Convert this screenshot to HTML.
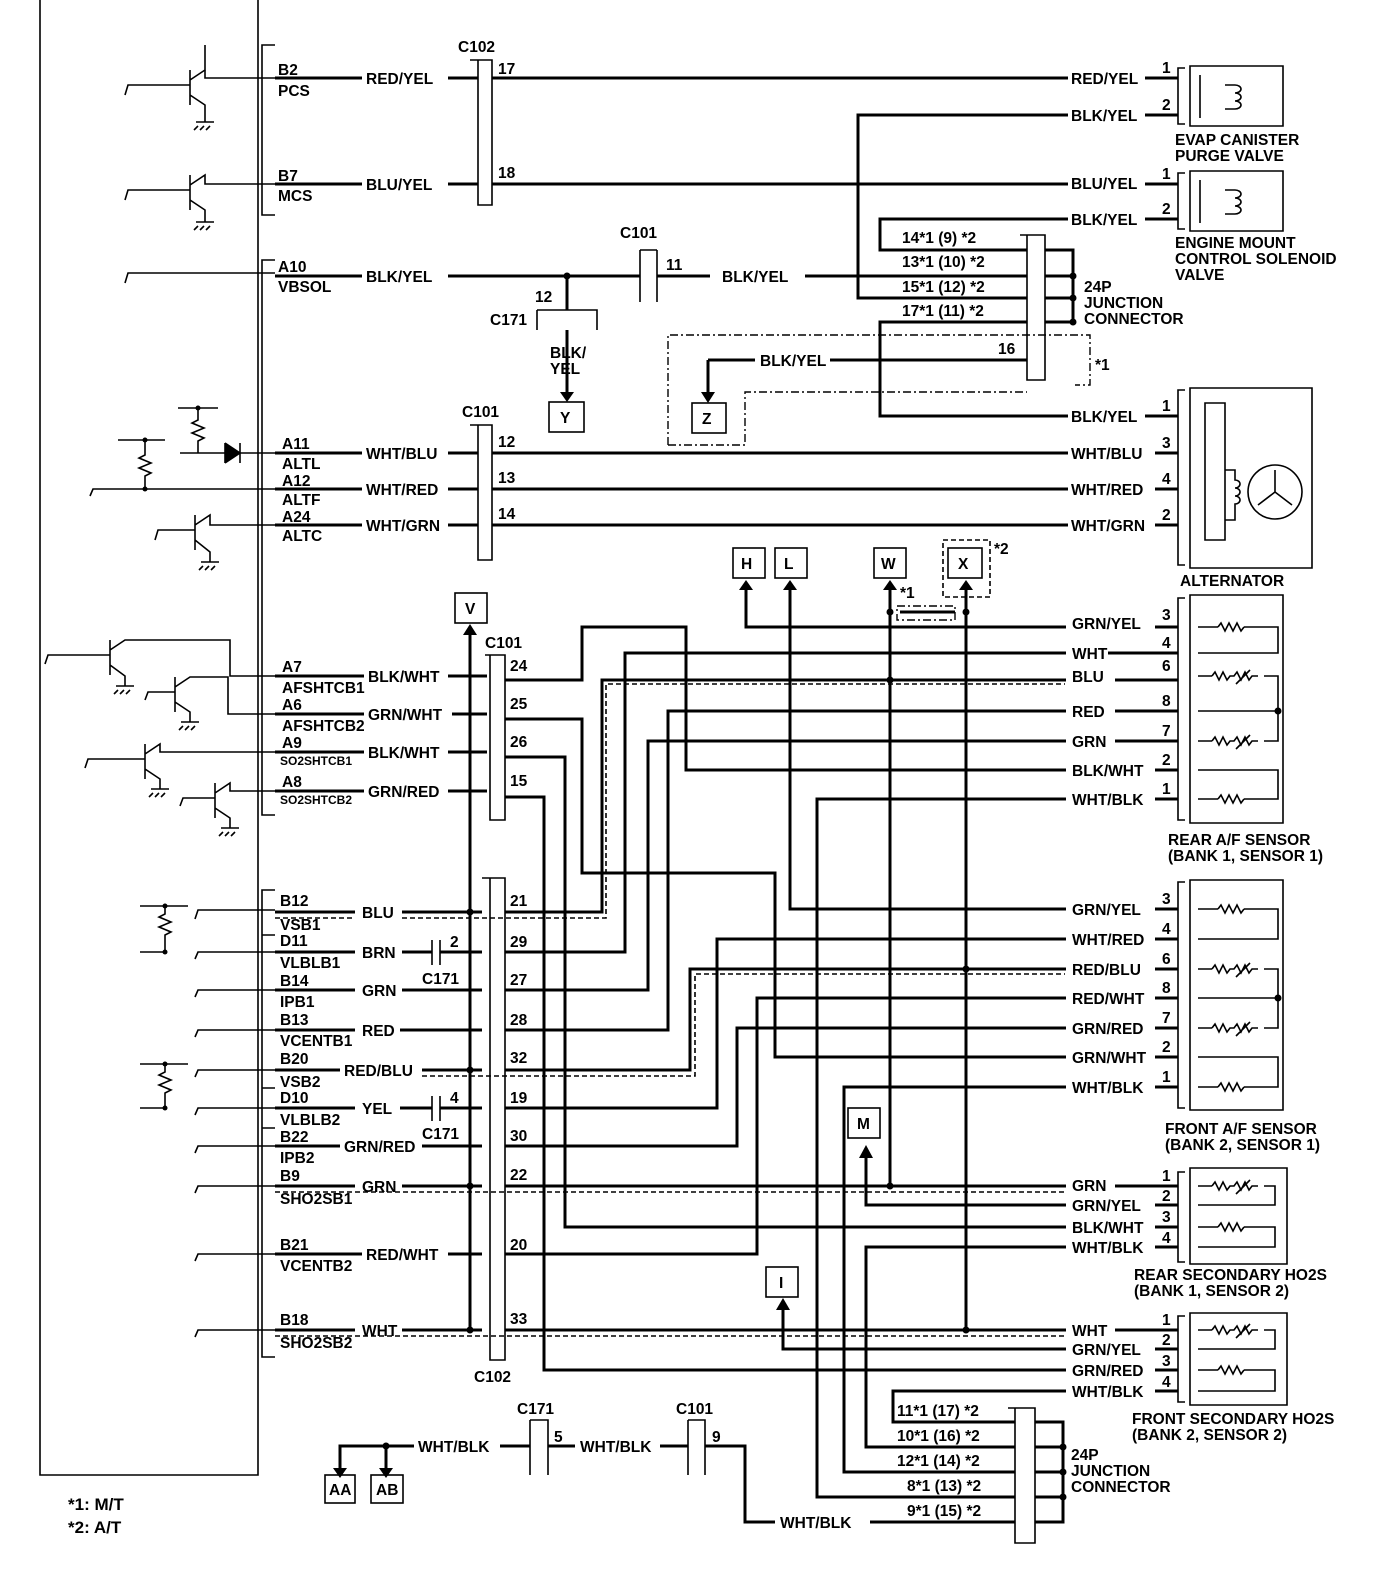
<!DOCTYPE html>
<html><head><meta charset="utf-8"><style>
html,body{margin:0;padding:0;background:#fff}
svg{display:block}
text{font-family:"Liberation Sans",Arial,sans-serif;font-weight:bold;font-size:15.5px;fill:#000}
.s{font-size:12px}
.w{stroke:#000;stroke-width:3;fill:none}
.t{stroke:#000;stroke-width:1.6;fill:none}
.d{stroke:#000;stroke-width:1.6;fill:none;stroke-dasharray:5,3}
.dd{stroke:#000;stroke-width:1.4;fill:none;stroke-dasharray:8,3,2,3}
</style></head><body>
<svg width="1376" height="1578" viewBox="0 0 1376 1578" xmlns="http://www.w3.org/2000/svg">
<path class="t" d="M40,0 V1475 H258 V0"/>
<path class="t" d="M275,45 H262 V215 H275"/>
<path class="t" d="M275,260 H262 V815 H275"/>
<path class="t" d="M275,890 H262 V1357 H275 M262,935 H275 M262,1088 H275 M262,1128 H275"/>

<g class="t">
<path d="M125,95 L128,85 H190 M190,70 V105 M190,80 L205,70 V45 M190,95 L205,105 V122 M196,122 H214 M198,126 L194,130 M204,126 L200,130 M210,126 L206,130"/>
<path d="M125,200 L128,190 H190 M190,175 V210 M190,185 L205,175 V184 H275 M190,200 L205,210 V222 M196,222 H214 M198,226 L194,230 M204,226 L200,230 M210,226 L206,230"/>
<path d="M205,70 V78 H275"/>
<path d="M125,283 L128,273 H275"/>
<path d="M178,408 H218 M198,408 V420 L192,423 L204,428 L192,433 L204,438 L198,441 V453 H225 M180,453 H198 M225,443 V463 M225,443 L240,453 L225,463 M240,443 V463 M240,453 H275"/>
<path d="M118,440 H165 M145,440 V455 L139,458 L151,463 L139,468 L151,473 L145,476 V489 M90,496 L93,489 H275"/>
<path d="M155,540 L158,530 H195 M195,515 V550 M195,525 L210,515 V525 H275 M195,540 L210,552 V562 M201,562 H219 M203,566 L199,570 M209,566 L205,570 M215,566 L211,570"/>
<path d="M45,664 L48,655 H110 M110,640 V675 M110,650 L125,640 H230 V676 H275 M110,665 L125,676 V686 M116,686 H134 M118,690 L114,694 M124,690 L120,694 M130,690 L126,694"/>
<path d="M145,700 L148,692 H175 M175,677 V712 M175,687 L190,677 H228 V714 H275 M175,702 L190,712 V722 M181,722 H199 M183,726 L179,730 M189,726 L185,730 M195,726 L191,730"/>
<path d="M85,768 L88,759 H145 M145,744 V779 M145,754 L160,744 V752 H275 M145,769 L160,779 V789 M151,789 H169 M153,793 L149,797 M159,793 L155,797 M165,793 L161,797"/>
<path d="M180,806 L183,798 H215 M215,783 V818 M215,793 L230,783 V791 H275 M215,808 L230,818 V828 M221,828 H239 M223,832 L219,836 M229,832 L225,836 M235,832 L231,836"/>
<path d="M140,906 H188 M165,906 V914 L159,917 L171,922 L159,927 L171,932 L165,935 V952 M195,919 L198,910 H275 M195,959 L198,952 H275 M140,952 H165"/>
<path d="M195,997 L198,990 H275 M195,1037 L198,1030 H275"/>
<path d="M140,1064 H188 M165,1064 V1072 L159,1075 L171,1080 L159,1085 L171,1090 L165,1093 V1108 M195,1077 L198,1070 H275 M195,1115 L198,1108 H275 M140,1108 H165"/>
<path d="M195,1153 L198,1146 H275 M195,1193 L198,1186 H275 M195,1261 L198,1254 H275 M195,1337 L198,1330 H275"/>
</g>
<g fill="#000"><circle cx="145" cy="440" r="2.5"/><circle cx="145" cy="489" r="2.5"/><circle cx="198" cy="408" r="2.5"/><circle cx="165" cy="906" r="2.5"/><circle cx="165" cy="952" r="2.5"/><circle cx="165" cy="1064" r="2.5"/><circle cx="165" cy="1108" r="2.5"/>
<path d="M225,443 L240,453 L225,463Z"/></g>

<g>
<text x="278" y="75">B2</text><text x="278" y="96">PCS</text>
<text x="278" y="181">B7</text><text x="278" y="201">MCS</text>
<text x="278" y="272">A10</text><text x="278" y="292">VBSOL</text>
<text x="282" y="449">A11</text><text x="282" y="469">ALTL</text>
<text x="282" y="486">A12</text><text x="282" y="505">ALTF</text>
<text x="282" y="522">A24</text><text x="282" y="541">ALTC</text>
<text x="282" y="672">A7</text><text x="282" y="693">AFSHTCB1</text>
<text x="282" y="710">A6</text><text x="282" y="731">AFSHTCB2</text>
<text x="282" y="748">A9</text><text x="280" y="765" class="s">SO2SHTCB1</text>
<text x="282" y="787">A8</text><text x="280" y="804" class="s">SO2SHTCB2</text>
<text x="280" y="906">B12</text><text x="280" y="930">VSB1</text>
<text x="280" y="946">D11</text><text x="280" y="968">VLBLB1</text>
<text x="280" y="986">B14</text><text x="280" y="1007">IPB1</text>
<text x="280" y="1025">B13</text><text x="280" y="1046">VCENTB1</text>
<text x="280" y="1064">B20</text><text x="280" y="1087">VSB2</text>
<text x="280" y="1103">D10</text><text x="280" y="1125">VLBLB2</text>
<text x="280" y="1142">B22</text><text x="280" y="1163">IPB2</text>
<text x="280" y="1181">B9</text><text x="280" y="1204">SHO2SB1</text>
<text x="280" y="1250">B21</text><text x="280" y="1271">VCENTB2</text>
<text x="280" y="1325">B18</text><text x="280" y="1348">SHO2SB2</text>
</g>

<g class="w">
<path d="M275,78 H362 M448,78 H478"/>
<path d="M275,184 H362 M448,184 H478"/>
<path d="M275,276 H362 M448,276 H640 M657,276 H710 M805,276 H858"/>
<path d="M275,453 H362 M448,453 H478 M275,489 H362 M448,489 H478 M275,525 H362 M448,525 H478"/>
<path d="M275,676 H364 M448,676 H487 M275,714 H364 M452,714 H487 M275,752 H364 M448,752 H487 M275,791 H364 M448,791 H487"/>
<path d="M275,912 H355 M402,912 H482 M275,952 H355 M402,952 H432 M440,952 H482 M275,990 H355 M402,990 H482 M275,1030 H355 M400,1030 H482"/>
<path d="M275,1070 H340 M422,1070 H482 M275,1108 H355 M400,1108 H432 M440,1108 H482 M275,1146 H340 M422,1146 H482 M275,1186 H355 M402,1186 H482 M275,1254 H362 M448,1254 H482 M275,1330 H355 M402,1330 H482"/>
</g>
<g>
<text x="366" y="84">RED/YEL</text><text x="366" y="190">BLU/YEL</text><text x="366" y="282">BLK/YEL</text>
<text x="366" y="459">WHT/BLU</text><text x="366" y="495">WHT/RED</text><text x="366" y="531">WHT/GRN</text>
<text x="368" y="682">BLK/WHT</text><text x="368" y="720">GRN/WHT</text><text x="368" y="758">BLK/WHT</text><text x="368" y="797">GRN/RED</text>
<text x="362" y="918">BLU</text><text x="362" y="958">BRN</text><text x="362" y="996">GRN</text><text x="362" y="1036">RED</text>
<text x="344" y="1076">RED/BLU</text><text x="362" y="1114">YEL</text><text x="344" y="1152">GRN/RED</text><text x="362" y="1192">GRN</text>
<text x="366" y="1260">RED/WHT</text><text x="362" y="1336">WHT</text>
</g>
<g class="d"><path d="M275,918 H355 M402,918 H606 V684 H1065"/><path d="M275,1192 H1065"/><path d="M275,1336 H1065"/><path d="M422,1076 H695 V974 H1065"/></g>
<g class="t"><path d="M432,940 V965 M440,940 V965 M432,1096 V1121 M440,1096 V1121"/></g>
<text x="450" y="947">2</text><text x="422" y="984">C171</text>
<text x="450" y="1103">4</text><text x="422" y="1139">C171</text>

<path class="t" d="M470,60 H492 V205 H478 V60"/>
<text x="458" y="52">C102</text><text x="498" y="74">17</text><text x="498" y="178">18</text>
<path class="t" d="M470,425 H492 V560 H478 V425"/>
<text x="462" y="417">C101</text><text x="498" y="447">12</text><text x="498" y="483">13</text><text x="498" y="519">14</text>
<path class="t" d="M485,655 H505 V820 H490 V655"/>
<text x="485" y="648">C101</text><text x="510" y="671">24</text><text x="510" y="709">25</text><text x="510" y="747">26</text><text x="510" y="786">15</text>
<path class="t" d="M482,878 H505 V1360 H490 V878"/>
<text x="510" y="906">21</text><text x="510" y="947">29</text><text x="510" y="985">27</text><text x="510" y="1025">28</text><text x="510" y="1063">32</text><text x="510" y="1103">19</text><text x="510" y="1141">30</text><text x="510" y="1180">22</text><text x="510" y="1250">20</text><text x="510" y="1324">33</text>
<text x="474" y="1382">C102</text>

<g class="w">
<path d="M492,78 H1068 M492,184 H1068"/>
<path d="M1068,115 H858 V298 H1027"/>
<path d="M1068,219 H880 V250 H1027"/>
<path d="M858,276 H1027"/>
<path d="M1027,322 H880 V416 H1068"/>
<path d="M830,360 H1027"/>
<path d="M567,276 V310"/>
<path d="M567,330 V395"/>
<path d="M708,360 H755 M708,360 V395"/>
<path d="M492,453 H1068 M492,489 H1068 M492,525 H1068"/>
</g>
<circle cx="567" cy="276" r="3.5"/>
<path class="t" d="M640,250 V302 M657,250 V302 M640,250 H657"/>
<text x="620" y="238">C101</text><text x="666" y="270">11</text><text x="722" y="282">BLK/YEL</text>
<path class="t" d="M537,310 H597 V330 M537,310 V330"/>
<text x="535" y="302">12</text><text x="490" y="325">C171</text>
<text x="550" y="358">BLK/</text><text x="550" y="374">YEL</text>
<path d="M560,392 L574,392 L567,402Z"/>
<rect class="t" x="549" y="402" width="35" height="30"/><text x="560" y="423">Y</text>
<path class="dd" d="M668,445 V335 H1090 V385 H1075 M668,445 H745 V392 H1027"/>
<path d="M701,392 L715,392 L708,403Z"/>
<rect class="t" x="692" y="403" width="34" height="30"/><text x="702" y="424">Z</text>
<text x="760" y="366">BLK/YEL</text><text x="998" y="354">16</text><text x="1095" y="370">*1</text>
<path class="t" d="M1020,235 H1045 V380 H1027 V235"/>
<path class="w" d="M1045,250 H1073 V322 H1045 M1045,276 H1073 M1045,298 H1073"/>
<g><circle cx="1073" cy="276" r="3.5"/><circle cx="1073" cy="298" r="3.5"/><circle cx="1073" cy="322" r="3.5"/></g>
<text x="902" y="243">14*1 (9) *2</text><text x="902" y="267">13*1 (10) *2</text><text x="902" y="292">15*1 (12) *2</text><text x="902" y="316">17*1 (11) *2</text>
<text x="1084" y="292">24P</text><text x="1084" y="308">JUNCTION</text><text x="1084" y="324">CONNECTOR</text>

<g>
<text x="1071" y="84">RED/YEL</text><text x="1071" y="121">BLK/YEL</text><text x="1071" y="189">BLU/YEL</text><text x="1071" y="225">BLK/YEL</text><text x="1071" y="422">BLK/YEL</text>
<text x="1071" y="459">WHT/BLU</text><text x="1071" y="495">WHT/RED</text><text x="1071" y="531">WHT/GRN</text>
</g>
<g class="w"><path d="M1145,78 H1178 M1145,115 H1178 M1145,184 H1178 M1145,219 H1178 M1145,416 H1178 M1155,453 H1178 M1155,489 H1178 M1155,525 H1178"/></g>
<text x="1162" y="73">1</text><text x="1162" y="110">2</text><text x="1162" y="179">1</text><text x="1162" y="214">2</text><text x="1162" y="411">1</text><text x="1162" y="448">3</text><text x="1162" y="484">4</text><text x="1162" y="520">2</text>
<path class="t" d="M1185,68 H1178 V124 H1185 M1190,66 H1283 V126 H1190 Z M1200,75 V118"/>
<path class="t" d="M1225,85 H1235 A6,4 0 0 1 1235,93 A6,4 0 0 1 1235,101 A6,4 0 0 1 1235,109 H1225"/>
<text x="1175" y="145">EVAP CANISTER</text><text x="1175" y="161">PURGE VALVE</text>
<path class="t" d="M1185,173 H1178 V229 H1185 M1190,171 H1283 V231 H1190 Z M1200,180 V223"/>
<path class="t" d="M1225,190 H1235 A6,4 0 0 1 1235,198 A6,4 0 0 1 1235,206 A6,4 0 0 1 1235,214 H1225"/>
<text x="1175" y="248">ENGINE MOUNT</text><text x="1175" y="264">CONTROL SOLENOID</text><text x="1175" y="280">VALVE</text>
<path class="t" d="M1185,390 H1178 V565 H1185 M1190,388 H1312 V568 H1190 Z M1205,403 H1225 V540 H1205 Z"/>
<path class="t" d="M1225,470 H1235 V480 A5,4 0 0 1 1235,488 A5,4 0 0 1 1235,496 A5,4 0 0 1 1235,504 V520 H1225"/>
<circle class="t" cx="1275" cy="492" r="27"/>
<path class="t" d="M1275,470 V492 L1258,505 M1275,492 L1292,505"/>
<text x="1180" y="586">ALTERNATOR</text>

<g class="t"><rect x="733" y="548" width="32" height="30"/><rect x="775" y="548" width="32" height="30"/><rect x="874" y="548" width="32" height="30"/><rect x="948" y="548" width="34" height="30"/><rect x="455" y="593" width="32" height="30"/></g>
<path class="d" d="M943,540 H990 V597 H943 Z"/>
<text x="741" y="569">H</text><text x="784" y="569">L</text><text x="881" y="569">W</text><text x="958" y="569">X</text><text x="465" y="614">V</text><text x="994" y="554">*2</text>
<g><path d="M739,590 L753,590 L746,580Z"/><path d="M783,590 L797,590 L790,580Z"/><path d="M883,590 L897,590 L890,580Z"/><path d="M959,590 L973,590 L966,580Z"/><path d="M463,635 L477,635 L470,624Z"/></g>
<text x="900" y="598">*1</text>
<path class="dd" d="M897,606 H955 V620 H897 Z"/>

<g class="w">
<path d="M470,630 V1330"/>
<path d="M746,590 V627 H1068"/>
<path d="M790,590 V909 H1068"/>
<path d="M890,590 V1186 M966,590 V1330"/>
<path d="M505,680 H582 V627 H686 V770 H1068"/>
<path d="M505,719 H582 V873 H775 V1057 H1068"/>
<path d="M505,757 H565 V1227 H1068"/>
<path d="M505,797 H544 V1370 H1068"/>
<path d="M505,912 H602 V680 H1068"/>
<path d="M505,952 H625 V653 H1068"/>
<path d="M505,990 H648 V741 H1068"/>
<path d="M505,1030 H668 V711 H1068"/>
<path d="M505,1070 H690 V969 H1068"/>
<path d="M505,1108 H717 V939 H1068"/>
<path d="M505,1146 H737 V1028 H1068"/>
<path d="M505,1254 H757 V998 H1068"/>
<path d="M505,1186 H1068 M505,1330 H1068"/>
<path d="M1068,799 H817 V1497 H1015"/>
<path d="M1068,1087 H844 V1472 H1015"/>
<path d="M1068,1247 H866 V1447 H1015"/>
<path d="M1068,1391 H893 V1422 H1015"/>
<path d="M1068,1205 H866 V1158"/>
<path d="M1068,1349 H783 V1310"/>
<path d="M900,612 H955"/>
</g>
<g><circle cx="470" cy="912" r="3.5"/><circle cx="470" cy="1070" r="3.5"/><circle cx="470" cy="1186" r="3.5"/><circle cx="470" cy="1330" r="3.5"/>
<circle cx="890" cy="612" r="3.5"/><circle cx="966" cy="612" r="3.5"/><circle cx="890" cy="680" r="3.5"/><circle cx="966" cy="969" r="3.5"/><circle cx="890" cy="1186" r="3.5"/><circle cx="966" cy="1330" r="3.5"/></g>
<rect class="t" x="848" y="1108" width="32" height="30"/><text x="857" y="1129">M</text><path d="M859,1158 L873,1158 L866,1145Z"/>
<rect class="t" x="766" y="1267" width="32" height="30"/><text x="779" y="1288">I</text><path d="M776,1310 L790,1310 L783,1298Z"/>

<g fill="#fff" stroke="none">
<rect x="1066" y="614" width="82" height="200"/><rect x="1066" y="900" width="82" height="196"/><rect x="1066" y="1176" width="82" height="80"/><rect x="1066" y="1321" width="82" height="80"/>
</g>
<g>
<text x="1072" y="629">GRN/YEL</text><text x="1072" y="659">WHT</text><text x="1072" y="682">BLU</text><text x="1072" y="717">RED</text><text x="1072" y="747">GRN</text><text x="1072" y="776">BLK/WHT</text><text x="1072" y="805">WHT/BLK</text>
<text x="1072" y="915">GRN/YEL</text><text x="1072" y="945">WHT/RED</text><text x="1072" y="975">RED/BLU</text><text x="1072" y="1004">RED/WHT</text><text x="1072" y="1034">GRN/RED</text><text x="1072" y="1063">GRN/WHT</text><text x="1072" y="1093">WHT/BLK</text>
<text x="1072" y="1191">GRN</text><text x="1072" y="1211">GRN/YEL</text><text x="1072" y="1233">BLK/WHT</text><text x="1072" y="1253">WHT/BLK</text>
<text x="1072" y="1336">WHT</text><text x="1072" y="1355">GRN/YEL</text><text x="1072" y="1376">GRN/RED</text><text x="1072" y="1397">WHT/BLK</text>
</g>
<g class="w"><path d="M1115,680 H1178 M1108,653 H1178 M1115,711 H1178 M1115,741 H1178 M1155,627 H1178 M1155,770 H1178 M1155,799 H1178
M1155,909 H1178 M1155,939 H1178 M1155,969 H1178 M1155,998 H1178 M1155,1028 H1178 M1155,1057 H1178 M1155,1087 H1178
M1115,1186 H1178 M1155,1205 H1178 M1155,1227 H1178 M1155,1247 H1178 M1115,1330 H1178 M1155,1349 H1178 M1155,1370 H1178 M1155,1391 H1178"/></g>
<g style="font-size:13px">
<text x="1162" y="620">3</text><text x="1162" y="648">4</text><text x="1162" y="671">6</text><text x="1162" y="706">8</text><text x="1162" y="736">7</text><text x="1162" y="765">2</text><text x="1162" y="794">1</text>
<text x="1162" y="904">3</text><text x="1162" y="934">4</text><text x="1162" y="964">6</text><text x="1162" y="993">8</text><text x="1162" y="1023">7</text><text x="1162" y="1052">2</text><text x="1162" y="1082">1</text>
<text x="1162" y="1181">1</text><text x="1162" y="1201">2</text><text x="1162" y="1222">3</text><text x="1162" y="1243">4</text>
<text x="1162" y="1325">1</text><text x="1162" y="1345">2</text><text x="1162" y="1366">3</text><text x="1162" y="1387">4</text>
</g>
<g class="t">
<path d="M1185,598 H1178 V820 H1185 M1190,595 H1283 V823 H1190 Z"/>
<path d="M1198,627 H1278 V653 H1198 M1198,676 H1278 V741 H1198 M1198,711 H1278 M1198,770 H1278 V799 H1198"/>
<path d="M1185,882 H1178 V1108 H1185 M1190,880 H1283 V1110 H1190 Z"/>
<path d="M1198,909 H1278 V939 H1198 M1198,969 H1278 V1028 H1198 M1198,998 H1278 M1198,1057 H1278 V1087 H1198"/>
<path d="M1185,1172 H1178 V1262 H1185 M1190,1168 H1287 V1264 H1190 Z"/>
<path d="M1198,1186 H1275 V1205 H1198 M1198,1227 H1275 V1247 H1198"/>
<path d="M1185,1316 H1178 V1402 H1185 M1190,1313 H1287 V1405 H1190 Z"/>
<path d="M1198,1330 H1275 V1349 H1198 M1198,1370 H1275 V1391 H1198"/>
</g>
<g fill="#fff"><rect x="1218" y="620" width="26" height="14"/><rect x="1218" y="792" width="26" height="14"/><rect x="1212" y="669" width="52" height="14"/><rect x="1212" y="734" width="52" height="14"/>
<rect x="1218" y="902" width="26" height="14"/><rect x="1218" y="1080" width="26" height="14"/><rect x="1212" y="962" width="52" height="14"/><rect x="1212" y="1021" width="52" height="14"/>
<rect x="1212" y="1179" width="52" height="14"/><rect x="1218" y="1220" width="26" height="14"/><rect x="1212" y="1323" width="52" height="14"/><rect x="1218" y="1363" width="26" height="14"/></g>
<g class="t">
<path d="M1218,627 l3,-4 l4,8 l4,-8 l4,8 l4,-8 l4,8 l3,-4 M1218,799 l3,-4 l4,8 l4,-8 l4,8 l4,-8 l4,8 l3,-4"/>
<path d="M1212,676 l3,-4 l4,8 l4,-8 l4,8 l3,-4 h4 l3,-4 l4,8 l4,-8 l4,8 l3,-4 h6 M1212,741 l3,-4 l4,8 l4,-8 l4,8 l3,-4 h4 l3,-4 l4,8 l4,-8 l4,8 l3,-4 h6 M1236,684 l14,-14 M1236,749 l14,-14"/>
<path d="M1218,909 l3,-4 l4,8 l4,-8 l4,8 l4,-8 l4,8 l3,-4 M1218,1087 l3,-4 l4,8 l4,-8 l4,8 l4,-8 l4,8 l3,-4"/>
<path d="M1212,969 l3,-4 l4,8 l4,-8 l4,8 l3,-4 h4 l3,-4 l4,8 l4,-8 l4,8 l3,-4 h6 M1212,1028 l3,-4 l4,8 l4,-8 l4,8 l3,-4 h4 l3,-4 l4,8 l4,-8 l4,8 l3,-4 h6 M1236,977 l14,-14 M1236,1036 l14,-14"/>
<path d="M1212,1186 l3,-4 l4,8 l4,-8 l4,8 l3,-4 h4 l3,-4 l4,8 l4,-8 l4,8 l3,-4 h6 M1236,1194 l14,-14 M1218,1227 l3,-4 l4,8 l4,-8 l4,8 l4,-8 l4,8 l3,-4"/>
<path d="M1212,1330 l3,-4 l4,8 l4,-8 l4,8 l3,-4 h4 l3,-4 l4,8 l4,-8 l4,8 l3,-4 h6 M1236,1338 l14,-14 M1218,1370 l3,-4 l4,8 l4,-8 l4,8 l4,-8 l4,8 l3,-4"/>
</g>
<circle cx="1278" cy="711" r="3.5"/><circle cx="1278" cy="998" r="3.5"/>
<text x="1168" y="845">REAR A/F SENSOR</text><text x="1168" y="861">(BANK 1, SENSOR 1)</text>
<text x="1165" y="1134">FRONT A/F SENSOR</text><text x="1165" y="1150">(BANK 2, SENSOR 1)</text>
<text x="1134" y="1280">REAR SECONDARY HO2S</text><text x="1134" y="1296">(BANK 1, SENSOR 2)</text>
<text x="1132" y="1424">FRONT SECONDARY HO2S</text><text x="1132" y="1440">(BANK 2, SENSOR 2)</text>

<path class="t" d="M1008,1408 H1035 V1543 H1015 V1408"/>
<path class="w" d="M1035,1422 H1063 V1522 H1035 M1035,1447 H1063 M1035,1472 H1063 M1035,1497 H1063"/>
<g><circle cx="1063" cy="1447" r="3.5"/><circle cx="1063" cy="1472" r="3.5"/><circle cx="1063" cy="1497" r="3.5"/></g>
<text x="897" y="1416">11*1 (17) *2</text><text x="897" y="1441">10*1 (16) *2</text><text x="897" y="1466">12*1 (14) *2</text><text x="907" y="1491">8*1 (13) *2</text><text x="907" y="1516">9*1 (15) *2</text>
<text x="1071" y="1460">24P</text><text x="1071" y="1476">JUNCTION</text><text x="1071" y="1492">CONNECTOR</text>
<g class="w"><path d="M340,1470 V1446 H414 M500,1446 H530 M548,1446 H575 M660,1446 H688 M705,1446 H745 V1522 H775 M870,1522 H1015"/><path d="M386,1446 V1470"/></g>
<circle cx="386" cy="1446" r="3.5"/>
<path d="M333,1468 L347,1468 L340,1478Z"/><path d="M379,1468 L393,1468 L386,1478Z"/>
<path class="t" d="M530,1420 V1475 M530,1420 H548 V1475 M688,1420 V1475 M688,1420 H705 V1475"/>
<rect class="t" x="325" y="1475" width="30" height="28"/><rect class="t" x="371" y="1475" width="32" height="28"/>
<text x="329" y="1495">AA</text><text x="376" y="1495">AB</text>
<text x="418" y="1452">WHT/BLK</text><text x="580" y="1452">WHT/BLK</text><text x="780" y="1528">WHT/BLK</text>
<text x="517" y="1414">C171</text><text x="676" y="1414">C101</text><text x="554" y="1442">5</text><text x="712" y="1442">9</text>
<text x="68" y="1510" style="font-size:17px">*1: M/T</text><text x="68" y="1533" style="font-size:17px">*2: A/T</text>
</svg>
</body></html>
